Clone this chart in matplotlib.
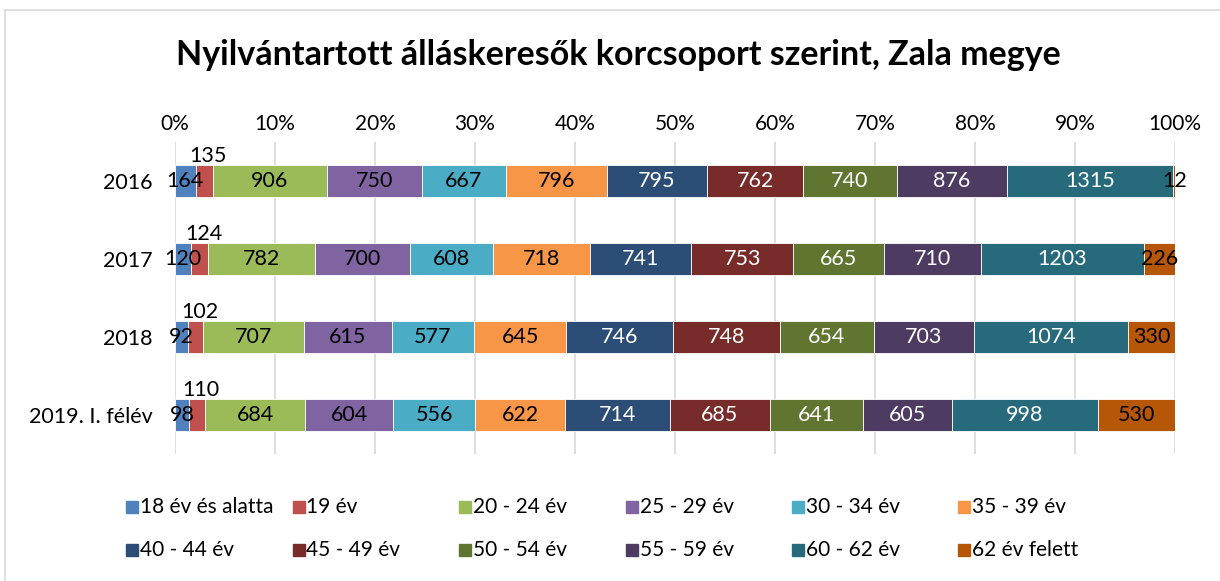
import matplotlib.pyplot as plt
from matplotlib.lines import Line2D
import numpy as np

plt.rcParams['font.family'] = ['Lato', 'DejaVu Sans']

years = ["2016", "2017", "2018", "2019. I. félév"]
groups = ["18 év és alatta", "19 év", "20 - 24 év", "25 - 29 év", "30 - 34 év",
          "35 - 39 év", "40 - 44 év", "45 - 49 év", "50 - 54 év", "55 - 59 év",
          "60 - 62 év", "62 év felett"]

v2016 = [164, 135, 906, 750, 667, 796, 795, 762, 740, 876, 1315, 12]
v2017 = [120, 124, 782, 700, 608, 718, 741, 753, 665, 710, 1203, 226]
v2018 = [92, 102, 707, 615, 577, 645, 746, 748, 654, 703, 1074, 330]
v2019 = [98, 110, 684, 604, 556, 622, 714, 685, 641, 605, 998, 530]

colors = ["#4F81BD", "#C0504D", "#9BBB59", "#8064A2", "#4BACC6", "#F79646",
          "#2C4D75", "#772C2A", "#5F7530", "#4D3B62", "#276A7C", "#B65708"]
white_text = {6, 7, 8, 9, 10}

data = np.array([v2016, v2017, v2018, v2019], dtype=float)
shares = data / data.sum(axis=1, keepdims=True)

fig = plt.figure(figsize=(12.2, 5.81), dpi=100)
ax = fig.add_axes([0.1434, 0.2186, 0.8197, 0.537])

y = np.arange(len(years))
left = np.zeros(len(years))
for i, g in enumerate(groups):
    ax.barh(y, shares[:, i], left=left, height=0.4, color=colors[i],
            edgecolor="white", linewidth=0.6, label=g, zorder=3)
    for r in range(len(years)):
        cx = left[r] + shares[r, i] / 2
        txt = str(int(data[r, i]))
        col = "white" if i in white_text else "black"
        if i == 1:
            ax.text(cx + 0.004, y[r] - 0.19, txt, ha="center", va="bottom",
                    fontsize=15.5, color="black", zorder=4)
        else:
            ax.text(cx, y[r], txt, ha="center", va="center",
                    fontsize=15.5, color=col, zorder=4)
    left += shares[:, i]

ax.set_xlim(0, 1)
ax.set_ylim(len(years) - 0.5, -0.5)
ax.set_yticks(y)
ax.set_yticklabels(years, fontsize=15.5)
ax.set_xticks(np.linspace(0, 1, 11))
ax.set_xticklabels([f"{p}%" for p in range(0, 101, 10)], fontsize=15)
ax.xaxis.tick_top()
ax.tick_params(axis="x", length=0, pad=6)
ax.tick_params(axis="y", length=0, pad=16)
ax.grid(axis="x", color="#d9d9d9", linewidth=1.2, zorder=0)
for s in ax.spines.values():
    s.set_visible(False)

fig.text(0.507, 0.905, "Nyilvántartott álláskeresők korcsoport szerint, Zala megye",
         ha="center", va="center", fontsize=24.5, fontweight="bold")

# legend, row by row with fixed column spacing
for k, (g, c) in enumerate(zip(groups, colors)):
    row, col = divmod(k, 6)
    lx = (128 + col * 166.5) / 1220
    ly = 1 - (507 + row * 43) / 581
    fig.add_artist(Line2D([lx + 4 / 1220], [ly], marker="s", markersize=9,
                          color=c, linestyle="none"))
    fig.text(lx + 12 / 1220, ly, g, ha="left", va="center", fontsize=15)

# chart border
fig.add_artist(Line2D([5 / 1220, 5 / 1220], [0, 1 - 10 / 581],
                      color="#d9d9d9", linewidth=1.2))
fig.add_artist(Line2D([5 / 1220, 1], [1 - 10 / 581, 1 - 10 / 581],
                      color="#d9d9d9", linewidth=1.2))

fig.savefig("out.png", dpi=100)
